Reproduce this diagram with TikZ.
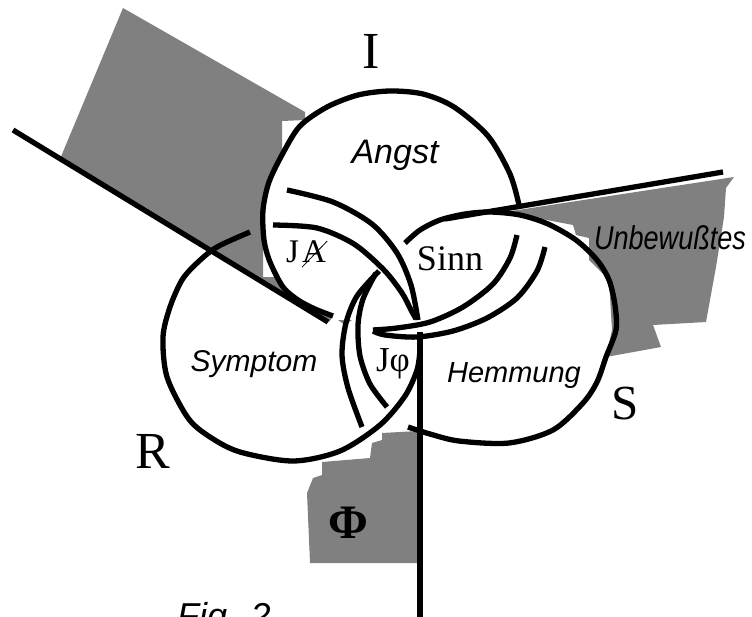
\documentclass[tikz,border=0pt]{standalone}
\usepackage{fontspec}
\setmainfont{Liberation Serif}
\newfontfamily\arialfont{Liberation Sans}
\definecolor{shade}{HTML}{808080}
\begin{document}
\begin{tikzpicture}[x=1pt,y=-1pt,
	ring/.style={line width=5.3pt},
	area/.style={fill=shade},
	letter/.style={font=\fontsize{52}{52}\selectfont, inner sep=0, anchor=base},
	word/.style={font=\arialfont\itshape\fontsize{30}{30}\selectfont, inner sep=0, anchor=base},
	sign/.style={inner sep=0, anchor=base}]
	\useasboundingbox (0,0) rectangle (752,616);
	\clip (0,0) rectangle (752,616);

	\fill[area] (123,8) -- (305,112) -- (305,120) -- (282,121) -- (282,150) -- (272,170) -- (266,190) -- (263,210) -- (263,277) -- (277,277) -- (283,287) -- (298,299) -- (315,308) -- (333,316) -- (329,322) -- (60,159) -- cycle;
	\fill[area] (338,320) -- (352,320) -- (345,325) -- cycle;
	\fill[area] (505,212) -- (734,177) -- (726,188) -- (724,217) -- (716,267) -- (706,322) -- (653,325) -- (661,347) -- (606,357) -- (612,330) -- (609,280) -- (589,260) -- (589,238) -- (576,235) -- (573,225) -- cycle;
	\fill[area] (382,433) -- (418,431) -- (418,563) -- (310,563) -- (307,493) -- (313,478) -- (322,475) -- (322,462) -- (370,458) -- (372,443) -- (382,440) -- cycle;

	\draw[ring] (13,130) -- (328,322);
	\draw[ring] (445,219) -- (723,172);
	\draw[ring] (420,332) -- (420,625);

	\draw[ring] plot[smooth] coordinates {(519,205) (510,174) (488,136) (454,107) (423,94) (390,91) (358,95) (327,107) (300,126) (283,153) (269,182) (263,210) (264,240) (270,262) (283,287) (298,300) (315,309) (333,316)};
	\draw[ring] plot[smooth] coordinates {(250,232) (217,247) (197,263) (182,280) (170,307) (163,337) (167,377) (188,418) (210,437) (240,452) (293,461) (340,451) (380,425) (405,396) (417,370) (420,350)};
	\draw[ring] plot[smooth] coordinates {(405,243) (420,230) (440,220) (465,214) (490,212) (520,215) (548,224) (576,240) (597,260) (609,280) (615,305) (616,330) (606,357) (597,382) (583,403) (553,430) (509,443) (459,441) (430,434) (408,427)};

	\draw[ring] plot[smooth] coordinates {(287,190) (333,202) (372,224) (397,253) (411,285) (418,320)};
	\draw[ring] plot[smooth] coordinates {(273,225) (317,228) (354,244) (384,270) (402,293) (411,310) (416,319)};
	\draw[ring] plot[smooth] coordinates {(379,271) (357,296) (346,323) (342,355) (348,388) (362,427)};
	\draw[ring] plot[smooth] coordinates {(376,273) (363,299) (358,325) (360,356) (370,384) (387,407)};
	\draw[ring] plot[smooth] coordinates {(517,235) (510,258) (493,284) (463,307) (430,322) (397,328) (373,330)};
	\draw[ring] plot[smooth] coordinates {(545,247) (537,271) (517,298) (487,318) (453,331) (417,337) (385,335) (373,331)};

	\node[letter] (imag) at (371,68) {I};
	\node[letter] (real) at (153,468) {R};
	\node[letter, font=\fontsize{49}{49}\selectfont] (symb) at (625,419) {S};
	\node[word, font=\arialfont\itshape\fontsize{34}{34}\selectfont] (angst) at (395,163) {Angst};
	\node[word] (symptom) at (254,371) {Symptom};
	\node[word, font=\arialfont\itshape\fontsize{29}{29}\selectfont] (hemmung) at (514,382) {Hemmung};
	\node[word, font=\arialfont\itshape\fontsize{33}{33}\selectfont, xscale=0.82] (ubw) at (670,249) {Unbewußtes};
	\node[sign, font=\fontsize{36}{36}\selectfont] (sinn) at (450,270) {Sinn};
	\node[sign, anchor=base west, font=\fontsize{33}{33}\selectfont] (jA) at (286,262) {J};
	\node[sign, anchor=base west, font=\fontsize{33}{33}\selectfont] (barA) at (302,262) {A};
	\draw[line width=0.8pt] ([yshift=-5pt]barA.south west) -- ([xshift=1pt,yshift=-1pt]barA.north east);
	\node[sign, font=\fontsize{35}{35}\selectfont] (jphi) at (393,371) {Jφ};
	\node[sign, font=\fontsize{48}{48}\selectfont\bfseries] (phallus) at (348,538) {Φ};
	\node[sign, anchor=base west, font=\arialfont\itshape\fontsize{36}{36}\selectfont] (fig) at (177,628) {Fig. 2};
\end{tikzpicture}
\end{document}
